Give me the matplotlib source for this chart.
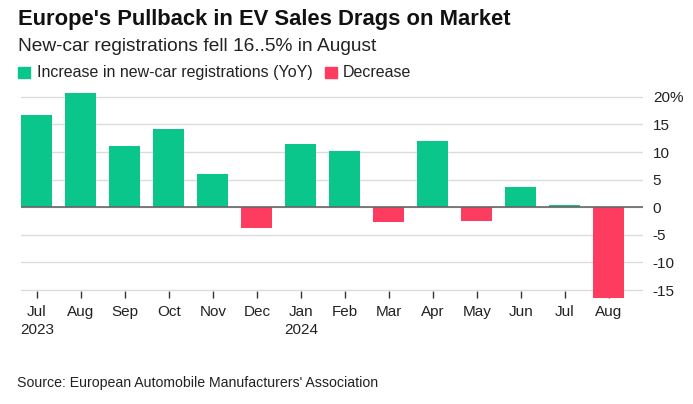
import matplotlib.pyplot as plt
from matplotlib.patches import Rectangle

months = ['Jul\n2023', 'Aug', 'Sep', 'Oct', 'Nov', 'Dec', 'Jan\n2024', 'Feb',
          'Mar', 'Apr', 'May', 'Jun', 'Jul', 'Aug']
yoy_change = [16.7, 20.7, 11.1, 14.2, 6.0, -3.7, 11.5, 10.2, -2.7, 12.0, -2.5, 3.6, 0.5, -16.5]
y_ticks = [-15, -10, -5, 0, 5, 10, 15, 20]
y_tick_labels = ['-15', '-10', '-5', '0', '5', '10', '15', '20%']

GREEN = '#0bc68a'
RED = '#fd3c5f'

plt.rcParams['font.family'] = ['Liberation Sans', 'DejaVu Sans']

fig = plt.figure(figsize=(6.93, 4.04), dpi=100)
ax = fig.add_axes([0.0303, 0.2616, 0.8977, 0.5122])

x = list(range(len(months)))
colors = [GREEN if v >= 0 else RED for v in yoy_change]
ax.bar(x, yoy_change, width=0.70, color=colors, zorder=3)

ax.set_xlim(-0.36, 13.78)
ax.set_ylim(-16.5, 21)

ax.set_yticks(y_ticks)
ax.set_yticklabels(y_tick_labels)
ax.yaxis.tick_right()
ax.tick_params(axis='y', length=0, pad=7, labelsize=11, labelcolor='#222222')
ax.grid(axis='y', color='#dcdcdc', linewidth=1, zorder=0)
ax.axhline(0, color='#666666', linewidth=1.2, zorder=4)

ax.set_xticks(x)
ax.set_xticklabels(months, linespacing=1.35)
ax.tick_params(axis='x', direction='in', length=5, width=1, color='#333333',
               pad=5, labelsize=11, labelcolor='#222222')

for s in ax.spines.values():
    s.set_visible(False)

fig.text(0.026, 0.951, "Europe's Pullback in EV Sales Drags on Market",
         fontsize=15.8, fontweight='bold', va='center', color='#111111')
fig.text(0.026, 0.886, 'New-car registrations fell 16..5% in August',
         fontsize=13.8, va='center', color='#222222')

# legend
fig.patches.append(Rectangle((0.026, 0.806), 0.017, 0.029, transform=fig.transFigure,
                             color=GREEN))
fig.text(0.053, 0.820, 'Increase in new-car registrations (YoY)', fontsize=11.5,
         va='center', color='#222222')
fig.patches.append(Rectangle((0.469, 0.806), 0.017, 0.029, transform=fig.transFigure,
                             color=RED))
fig.text(0.495, 0.820, 'Decrease', fontsize=11.5, va='center', color='#222222')

fig.text(0.025, 0.052, "Source: European Automobile Manufacturers' Association",
         fontsize=10.2, va='center', color='#222222')

fig.savefig('out.png', dpi=100)
